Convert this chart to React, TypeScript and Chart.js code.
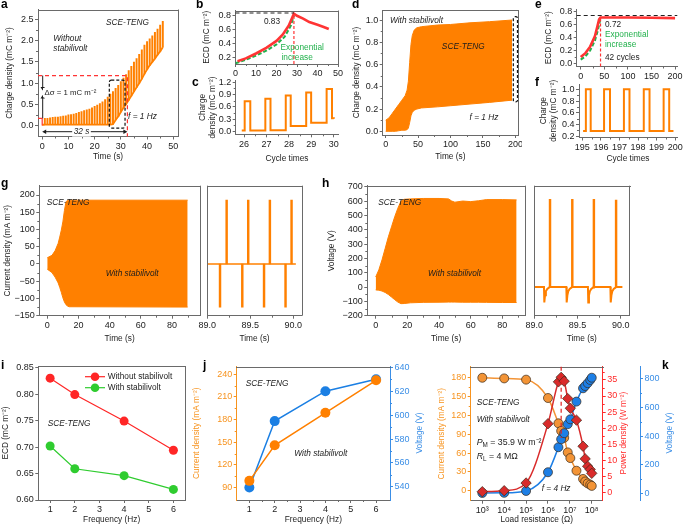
import React, { useEffect, useRef } from 'react';
import { Chart, registerables } from 'chart.js';

Chart.register(...registerables);

const FONT = '"Liberation Sans", Arial, Helvetica, sans-serif';
const FT = 9; // tick label size
const FS = 8.3; // titles & annotations
const LH = FS * 1.2;
const ORANGE = '#ff8000';
const ORANGE_L = '#f7931e';
const AX = '#6a6a6a';
const INK = '#1c1c1c';
const RED = '#ff3434';
const GREEN = '#22b14c';
const BLUE = '#1b7fe3';
const BLUE_L = '#3a8ee6';
const I_RED = '#ff2626';
const I_GREEN = '#2fcc2f';
const K_ORANGE = '#f39436';
const K_RED = '#d92b2b';
const K_BLUE = '#1d7fe6';

// ================= DATA =================
// (a) charge density, without stabilivolt: one spike per cycle
const aTime = [1, 2, 3, 4, 5, 6, 7, 8, 9, 10, 11, 12, 13, 14, 15, 16, 17, 18, 19, 20, 21, 22, 23, 24, 25, 26, 27, 28, 29, 30, 31, 32, 33, 34, 35, 36, 37, 38, 39, 40, 41, 42, 43, 44, 45, 46];
const aPeak = [0.17, 0.17, 0.18, 0.19, 0.2, 0.2, 0.21, 0.22, 0.23, 0.25, 0.26, 0.27, 0.29, 0.31, 0.33, 0.35, 0.37, 0.39, 0.42, 0.45, 0.48, 0.52, 0.56, 0.61, 0.67, 0.74, 0.8, 0.88, 0.95, 1.04, 1.12, 1.2, 1.3, 1.4, 1.5, 1.58, 1.68, 1.79, 1.9, 1.98, 2.05, 2.12, 2.2, 2.28, 2.37, 2.46];
const aLow = [0.02, 0.02, 0.02, 0.02, 0.02, 0.02, 0.02, 0.02, 0.02, 0.02, 0.02, 0.02, 0.02, 0.02, 0.02, 0.02, 0.02, 0.02, 0.02, 0.02, 0.02, 0.02, 0.02, 0.02, 0.02, 0.02, 0.03, 0.13, 0.21, 0.32, 0.42, 0.5, 0.6, 0.7, 0.8, 0.9, 1.0, 1.1, 1.22, 1.32, 1.42, 1.5, 1.58, 1.67, 1.75, 1.85];
const aBaseT = [0, 1];
const aBaseV = [0.02, 0.02];
const aXTicks = [0, 10, 20, 30, 40, 50];
const aYTicks = [0, 0.5, 1, 1.5, 2, 2.5];

// (b) ECD without stabilivolt
const bRedT = [1, 5, 10, 15, 20, 23, 26, 28.5, 30, 33, 36, 40, 43, 45.5];
const bRed = [0.15, 0.19, 0.26, 0.34, 0.44, 0.53, 0.66, 0.83, 0.8, 0.76, 0.71, 0.67, 0.64, 0.61];
const bGreenT = [0, 5, 10, 15, 20, 24, 27, 28.5];
const bGreen = [0.12, 0.17, 0.23, 0.3, 0.39, 0.5, 0.66, 0.8];
const bXTicks = [0, 10, 20, 30, 40, 50];
const bYTicks = [0.2, 0.4, 0.6, 0.8];

// (c) charge density zoom, cycles 26-30 (level changes)
const cT = [25.9, 26.03, 26.28, 26.95, 27.18, 27.86, 28.08, 28.77, 28.99, 29.68, 29.92, 30.0];
const cV = [0.02, 0.74, 0.02, 0.8, 0.03, 0.88, 0.13, 0.95, 0.21, 1.04, 0.32, 0.31];
const cXTicks = [26, 27, 28, 29, 30];
const cYTicks = [0, 0.3, 0.6, 0.9, 1.2];

// (d) charge density with stabilivolt (envelope of the dense signal)
const dTime = [0, 5, 10, 15, 20, 25, 30, 33, 35, 37, 39, 41, 44, 48, 55, 80, 100, 130, 160, 195];
const dUpper = [0.1, 0.12, 0.16, 0.2, 0.24, 0.28, 0.32, 0.37, 0.45, 0.62, 0.78, 0.86, 0.91, 0.93, 0.94, 0.955, 0.96, 0.975, 0.985, 1.0];
const dLower = [0, 0, 0, 0, 0.005, 0.01, 0.01, 0.015, 0.03, 0.08, 0.14, 0.17, 0.19, 0.2, 0.21, 0.22, 0.23, 0.245, 0.26, 0.28];
const dXTicks = [0, 50, 100, 150, 200];
const dYTicks = [0, 0.2, 0.4, 0.6, 0.8, 1.0];

// (e) ECD with stabilivolt
const eRedT = [0, 10, 20, 30, 35, 39, 42, 60, 100, 150, 200];
const eRed = [0.1, 0.16, 0.26, 0.42, 0.56, 0.68, 0.71, 0.71, 0.71, 0.705, 0.7];
const eGreenT = [0, 10, 20, 30, 36, 40, 42];
const eGreen = [0.06, 0.11, 0.2, 0.35, 0.5, 0.63, 0.7];
const eXTicks = [0, 50, 100, 150, 200];
const eYTicks = [0, 0.2, 0.4, 0.6, 0.8];

// (f) charge density zoom, cycles 195-200 (level changes)
const fT = [195.04, 195.19, 195.45, 196.17, 196.49, 197.24, 197.54, 198.31, 198.62, 199.38, 199.68, 199.91];
const fV = [0.29, 1.0, 0.29, 1.0, 0.29, 1.0, 0.29, 1.0, 0.29, 1.0, 0.29, 0.29];
const fXTicks = [195, 196, 197, 198, 199, 200];
const fYTicks = [0.2, 0.4, 0.6, 0.8, 1.0];

// (g) current density envelope
const gTime = [0, 3, 5, 7, 8, 9, 10, 11, 12, 13, 14, 90];
const gUpper = [18, 25, 38, 60, 78, 98, 122, 155, 180, 185, 185, 185];
const gLower = [-15, -25, -38, -55, -68, -82, -98, -110, -118, -122, -124, -125];
const gXTicks = [0, 20, 40, 60, 80];
const gYTicks = [-150, -100, -50, 0, 50, 100, 150, 200];
// (g) zoom 89-90 s : spikes
const gsT = [89.148, 89.225, 89.407, 89.476, 89.66, 89.728, 89.91, 89.98];
const gsV = [-125, 185, -125, 185, -125, 185, -125, 185];
const gsBase = [0, 0, 0, 0, 0, 0, 0, 0];
const gzT = [89.0, 90.03];
const gzV = [0, 0];
const zXTicks = [89.0, 89.5, 90.0];

// (h) voltage envelope
const hTime = [0, 2, 4, 6, 8, 10, 12, 14, 16, 18, 22, 30, 40, 46, 48, 50, 55, 60, 65, 70, 80, 89];
const hUpper = [70, 120, 190, 270, 350, 420, 490, 550, 600, 612, 615, 618, 618, 615, 600, 592, 600, 596, 602, 610, 610, 608];
const hLower = [-20, -22, -28, -38, -52, -70, -88, -105, -116, -115, -110, -107, -106, -105, -105, -105, -106, -106, -106, -107, -108, -108];
const hYTicks = [-200, -100, 0, 100, 200, 300, 400, 500, 600, 700];
// (h) zoom 89-90 s
const hsT = [89.182, 89.44, 89.69, 89.947];
const hsV = [612, 612, 612, 606];
const hsBase = [0, 0, 0, 0];
const hzT = [89.0, 89.112, 89.116, 89.124, 89.134, 89.15, 89.17, 89.18, 89.371, 89.375, 89.383, 89.393, 89.409, 89.43, 89.44, 89.621, 89.625, 89.633, 89.643, 89.659, 89.68, 89.69, 89.881, 89.885, 89.893, 89.903, 89.919, 89.94, 89.95, 90.02];
const hzV = [0, 0, -108, -58, -30, -13, -4, 0, 0, -108, -58, -30, -13, -4, 0, 0, -108, -58, -30, -13, -4, 0, 0, -108, -58, -30, -13, -4, 0, 0];

// (i) ECD vs frequency
const iFreq = [1, 2, 4, 6];
const iWithout = [0.83, 0.799, 0.749, 0.694];
const iWith = [0.702, 0.659, 0.646, 0.62];
const iXTicks = [1, 2, 3, 4, 5, 6];
const iYTicks = [0.6, 0.65, 0.7, 0.75, 0.8, 0.85];

// (j) current density & voltage vs frequency
const jFreq = [1, 2, 4, 6];
const jCurrent = [99, 146, 189, 232];
const jVoltage = [539.5, 595, 620, 630];
const jCurTicks = [90, 120, 150, 180, 210, 240];
const jVolTicks = [540, 560, 580, 600, 620, 640];

// (k) load resistance sweep
const kR = [1e3, 1e4, 1e5, 1e6, 3e6, 4e6, 5.5e6, 8e6, 1.05e7, 2e7, 4e7, 5e7, 6.5e7, 8.5e7, 1e8];
const kCurrent = [179, 178, 176, 147, 107, 95, 84, 61, 52, 32, 19, 15, 12, 10, 8];
const kPower = [0.3, 0.6, 3.0, 21.4, 34.4, 35.8, 34.6, 29.2, 26.2, 22.5, 14.4, 10.5, 8.2, 7.2, 6.0];
const kVoltage = [2, 3, 16, 147, 322, 378, 420, 483, 517, 641, 734, 750, 770, 792, 808];
const kXTicks = [1e3, 1e4, 1e5, 1e6, 1e7, 1e8];
const kCurTicks = [0, 30, 60, 90, 120, 150, 180];
const kPowTicks = [0, 5, 10, 15, 20, 25, 30, 35];
const kVolTicks = [0, 200, 400, 600, 800];

// ================= HELPERS =================
const fmt1 = (v: number) => v.toFixed(1);
const fmt2 = (v: number) => v.toFixed(2);
const fmtInt = (v: number) => (v < 0 ? '\u2212' + Math.abs(v) : String(v));
const SUP: Record<string, string> = { '0': '\u2070', '1': '\u00b9', '2': '\u00b2', '3': '\u00b3', '4': '\u2074', '5': '\u2075', '6': '\u2076', '7': '\u2077', '8': '\u2078', '9': '\u2079' };
const fmtPow = (v: number) => '10' + String(Math.round(Math.log10(v))).split('').map((c) => SUP[c]).join('');
const pts = (xs: number[], ys: number[]) => xs.map((x, i) => ({ x, y: ys[i] }));
const tl = (x: number, cl: number) => x - cl - LH / 2;
const tb = (y: number, cb: number) => cb - LH / 2 - y;

type AxOpt = {
  pos: 'left' | 'right' | 'bottom';
  min: number;
  max: number;
  ticks?: number[];
  fmt?: (v: number) => string;
  size: number;
  title?: string | string[];
  titlePad?: number;
  color?: string;
  labelColor?: string;
  titleColor?: string;
  labels?: boolean;
  display?: boolean;
  type?: string;
};

function ax(o: AxOpt): any {
  const horiz = o.pos === 'bottom';
  const c = o.color ?? AX;
  return {
    type: o.type ?? 'linear',
    position: o.pos,
    display: o.display ?? true,
    min: o.min,
    max: o.max,
    bounds: 'data',
    offset: false,
    afterFit: (s: any) => {
      if (horiz) s.height = o.size;
      else s.width = o.size;
      s.paddingLeft = 0;
      s.paddingRight = 0;
      s.paddingTop = 0;
      s.paddingBottom = 0;
    },
    afterBuildTicks: (s: any) => {
      if (o.ticks) s.ticks = o.ticks.map((v) => ({ value: v }));
    },
    border: { display: true, color: c, width: 1 },
    grid: { display: true, drawOnChartArea: false, drawTicks: true, tickLength: 3, tickWidth: 1, tickColor: c, color: c, offset: false },
    ticks: {
      display: o.labels ?? true,
      color: o.labelColor ?? INK,
      font: { family: FONT, size: FT },
      padding: 1.5,
      autoSkip: false,
      maxRotation: 0,
      minRotation: 0,
      callback: (v: any) => (o.fmt ? o.fmt(Number(v)) : String(v)),
    },
    title: o.title
      ? {
          display: true,
          text: o.title,
          color: o.titleColor ?? INK,
          font: { family: FONT, size: FS },
          padding: horiz ? { top: 0, bottom: o.titlePad ?? 0 } : { top: o.titlePad ?? 0, bottom: 0 },
        }
      : { display: false },
  };
}

type TextOpt = { italic?: boolean; bold?: boolean; size?: number; color?: string; align?: CanvasTextAlign; rot?: number; bg?: string };

function makeG(chart: any, off: number[]) {
  const ctx: CanvasRenderingContext2D = chart.ctx;
  const ca = chart.chartArea;
  const X = (v: number, id = 'x') => chart.scales[id].getPixelForValue(v);
  const Y = (v: number, id = 'y') => chart.scales[id].getPixelForValue(v);
  const P = (x: number) => x - off[0];
  const Q = (y: number) => y - off[1];
  const al = (v: number) => Math.round(v) + 0.5;
  const seg = (p: number[][], o: any = {}) => {
    ctx.save();
    ctx.beginPath();
    ctx.strokeStyle = o.color ?? INK;
    ctx.lineWidth = o.width ?? 1;
    ctx.setLineDash(o.dash ?? []);
    p.forEach((q, i) => (i ? ctx.lineTo(q[0], q[1]) : ctx.moveTo(q[0], q[1])));
    if (o.close) ctx.closePath();
    ctx.stroke();
    ctx.restore();
  };
  const fontOf = (o: TextOpt) => `${o.italic ? 'italic ' : ''}${o.bold ? 'bold ' : ''}${o.size ?? FS}px ${FONT}`;
  const text = (s: string, x: number, y: number, o: TextOpt = {}) => {
    ctx.save();
    ctx.font = fontOf(o);
    ctx.textAlign = o.align ?? 'left';
    ctx.textBaseline = 'middle';
    ctx.translate(P(x), Q(y));
    if (o.rot) ctx.rotate(o.rot);
    if (o.bg) {
      const w = ctx.measureText(s).width;
      const x0 = o.align === 'center' ? -w / 2 : o.align === 'right' ? -w : 0;
      const sz = o.size ?? FS;
      ctx.fillStyle = o.bg;
      ctx.fillRect(x0 - 1.5, -sz * 0.6, w + 3, sz * 1.2);
    }
    ctx.fillStyle = o.color ?? INK;
    ctx.fillText(s, 0, 0);
    ctx.restore();
  };
  const rich = (runs: { t: string; italic?: boolean; sub?: boolean }[], x: number, y: number, size = FS) => {
    ctx.save();
    ctx.textBaseline = 'middle';
    ctx.textAlign = 'left';
    ctx.fillStyle = INK;
    let cx = P(x);
    for (const r of runs) {
      const sz = r.sub ? size * 0.72 : size;
      ctx.font = `${r.italic ? 'italic ' : ''}${sz}px ${FONT}`;
      ctx.fillText(r.t, cx, Q(y) + (r.sub ? size * 0.32 : 0));
      cx += ctx.measureText(r.t).width;
    }
    ctx.restore();
  };
  const head = (x: number, y: number, ang: number, len = 4, wid = 2.2, color = INK) => {
    ctx.save();
    ctx.translate(x, y);
    ctx.rotate(ang);
    ctx.beginPath();
    ctx.moveTo(0, 0);
    ctx.lineTo(-len, -wid);
    ctx.lineTo(-len, wid);
    ctx.closePath();
    ctx.fillStyle = color;
    ctx.fill();
    ctx.restore();
  };
  const frame = (o: { top?: boolean; right?: boolean; color?: string } = {}) => {
    const c = o.color ?? AX;
    if (o.top !== false) seg([[Math.floor(ca.left), al(ca.top)], [Math.ceil(ca.right) + 1, al(ca.top)]], { color: c });
    if (o.right !== false) seg([[al(ca.right), ca.top], [al(ca.right), ca.bottom]], { color: c });
  };
  const minor = (id: string, vals: number[], len = 2, color = AX) => {
    const s = chart.scales[id];
    for (const v of vals) {
      const p = al(s.getPixelForValue(v));
      if (s.position === 'bottom') seg([[p, ca.bottom], [p, ca.bottom + len]], { color });
      else if (s.position === 'left') seg([[s.right, p], [s.right - len, p]], { color });
      else seg([[s.left, p], [s.left + len, p]], { color });
    }
  };
  const dot = (x: number, y: number, r: number, fill: string) => {
    ctx.save();
    ctx.beginPath();
    ctx.arc(x, y, r, 0, Math.PI * 2);
    ctx.fillStyle = fill;
    ctx.fill();
    ctx.restore();
  };
  return { ctx, ca, X, Y, P, Q, al, seg, text, rich, head, frame, minor, dot };
}

type Spec = {
  canvas: number[]; // page left, top, right, bottom
  plot: number[]; // page left, top, right, bottom
  noLeft?: boolean;
  hasRight?: boolean;
  scales: any;
  datasets: any[];
  draw?: (g: ReturnType<typeof makeG>) => void;
};

function buildConfig(s: Spec): any {
  const [cl, ct, cr] = s.canvas;
  const [pl, pt, pr] = s.plot;
  return {
    type: 'line',
    data: { datasets: s.datasets },
    options: {
      responsive: false,
      animation: false,
      devicePixelRatio: 1,
      events: [],
      layout: {
        padding: {
          left: s.noLeft ? pl - cl : 0,
          top: pt - ct,
          right: s.hasRight ? 0 : cr - pr,
          bottom: 0,
        },
      },
      plugins: { legend: { display: false }, tooltip: { enabled: false } },
      scales: s.scales,
    },
    plugins: [
      {
        id: 'deco',
        afterDraw(chart: any) {
          if (!s.draw) return;
          const g = makeG(chart, [cl, ct]);
          g.ctx.save();
          s.draw(g);
          g.ctx.restore();
        },
      },
    ],
  };
}

function Panel({ spec }: { spec: Spec }) {
  const ref = useRef<HTMLCanvasElement | null>(null);
  useEffect(() => {
    const c = ref.current;
    if (!c) return;
    const chart = new Chart(c, buildConfig(spec));
    return () => chart.destroy();
  }, [spec]);
  const [l, t, r, b] = spec.canvas;
  return (
    <canvas
      ref={ref}
      width={r - l}
      height={b - t}
      style={{ position: 'absolute', left: l, top: t, width: r - l, height: b - t }}
    />
  );
}

const lineDs = (xs: number[], ys: number[], color: string, width: number, extra: any = {}) => ({
  type: 'line',
  data: pts(xs, ys),
  borderColor: color,
  backgroundColor: color,
  borderWidth: width,
  pointRadius: 0,
  tension: 0,
  fill: false,
  ...extra,
});

const envelope = (xs: number[], lo: number[], hi: number[]) => [
  lineDs(xs, lo, ORANGE, 1),
  lineDs(xs, hi, ORANGE, 1, { fill: '-1', backgroundColor: ORANGE }),
];

const spikes = (xs: number[], lo: number[], hi: number[], w: number) => ({
  type: 'bar',
  data: xs.map((x, i) => ({ x, y: [lo[i], hi[i]] })),
  backgroundColor: ORANGE,
  borderWidth: 0,
  barThickness: w,
  grouped: false,
});

// ================= PANELS =================
const specA: Spec = {
  canvas: [0, 0, 183, 165],
  plot: [38, 9.5, 178, 136.5],
  scales: {
    x: ax({ pos: 'bottom', min: -1.6, max: 51.8, ticks: aXTicks, size: 28.5, title: 'Time (s)', titlePad: tb(157, 165) }),
    y: ax({ pos: 'left', min: -0.26, max: 2.74, ticks: aYTicks, fmt: fmt1, size: 38, title: 'Charge density (mC m\u207b\u00b2)', titlePad: tl(10, 0) }),
  },
  datasets: [
    lineDs(aBaseT, aBaseV, ORANGE, 2),
    lineDs(aTime, aLow, ORANGE, 1.8),
    spikes(aTime, aLow, aPeak, 1.3),
  ],
  draw: (g) => {
    g.frame();
    g.minor('x', [5, 15, 25, 35, 45]);
    g.minor('y', [0.25, 0.75, 1.25, 1.75, 2.25]);
    const ca = g.ca;
    g.seg([[ca.left, g.Y(1.18)], [g.X(32.5), g.Y(1.18)], [g.X(32.5), ca.bottom]], { color: RED, dash: [4, 3], width: 1.2 });
    g.seg([[ca.left, g.Y(0.17)], [g.X(0), g.Y(0.17)], [g.X(0), g.Y(0.0)]], { color: RED, width: 1.2 });
    // black dashed rounded box
    g.ctx.save();
    g.ctx.beginPath();
    g.ctx.setLineDash([3, 2]);
    g.ctx.lineWidth = 1.2;
    g.ctx.strokeStyle = '#111';
    const x0 = g.X(25.6), x1 = g.X(31.6), y0 = g.Y(1.07), y1 = g.Y(-0.06);
    g.ctx.roundRect(x0, y0, x1 - x0, y1 - y0, 2);
    g.ctx.stroke();
    g.ctx.restore();
    // delta sigma dimension arrows
    const ax0 = g.P(42.7);
    g.seg([[ax0, g.Y(1.18)], [ax0, g.Q(87.5)]], { width: 1 });
    g.head(ax0, g.Q(90.5), Math.PI / 2, 3.5, 2.2);
    g.seg([[ax0, g.Y(0.17)], [ax0, g.Q(98)]], { width: 1 });
    g.head(ax0, g.Q(95), -Math.PI / 2, 3.5, 2.2);
    g.text('\u0394\u03c3 = 1 mC m\u207b\u00b2', 44.5, 92.7, { size: 7.8, bg: '#ffffff' });
    // 32 s arrow
    const yy = g.Q(131.7);
    g.seg([[g.X(0) + 3, yy], [g.X(32.5) - 3, yy]]);
    g.head(g.X(0), yy, Math.PI, 4, 2.2);
    g.head(g.X(32.5), yy, 0, 4, 2.2);
    g.text('32 s', 81.5, 131.7, { italic: true, align: 'center', bg: '#ffffff' });
    g.text('SCE-TENG', 127.5, 22.3, { italic: true, align: 'center' });
    g.text('Without', 53.3, 38.3, { italic: true });
    g.text('stabilivolt', 53.3, 48.3, { italic: true });
    g.text('f = 1 Hz', 142.5, 116.7, { italic: true, align: 'center' });
  },
};

const specB: Spec = {
  canvas: [180, 0, 343, 78],
  plot: [235.5, 10.5, 338, 64],
  scales: {
    x: ax({ pos: 'bottom', min: 0, max: 50, ticks: bXTicks, size: 14 }),
    y: ax({ pos: 'left', min: 0.11, max: 0.875, ticks: bYTicks, fmt: fmt1, size: 55.5, title: 'ECD (mC m\u207b\u00b2)', titlePad: tl(206.7, 180) }),
  },
  datasets: [
    lineDs(bRedT, bRed, RED, 2.6),
    lineDs(bGreenT, bGreen, GREEN, 2, { borderDash: [4, 2] }),
  ],
  draw: (g) => {
    g.frame();
    g.minor('x', [5, 15, 25, 35, 45]);
    g.minor('y', [0.3, 0.5, 0.7]);
    g.seg([[g.X(0), g.Y(0.84)], [g.X(28.5), g.Y(0.84)]], { color: '#222', dash: [4, 3], width: 1.1 });
    g.seg([[g.X(28.5), g.ca.bottom], [g.X(28.5), g.Y(0.83)]], { color: RED, dash: [3, 2], width: 1.2 });
    g.text('0.83', 272, 21.7, { align: 'center' });
    g.text('Exponential', 280.5, 47.3, { color: GREEN });
    g.text('increase', 281.5, 57.3, { color: GREEN });
  },
};

const specC: Spec = {
  canvas: [180, 76, 343, 165],
  plot: [235.7, 80.7, 338.3, 134.3],
  scales: {
    x: ax({ pos: 'bottom', min: 25.63, max: 30.2, ticks: cXTicks, size: 30.7, title: 'Cycle times', titlePad: tb(158.3, 165) }),
    y: ax({ pos: 'left', min: -0.07, max: 1.24, ticks: cYTicks, fmt: fmt1, size: 55.7, title: ['Charge', 'density (mC m\u207b\u00b2)'], titlePad: tl(202.5, 180) }),
  },
  datasets: [lineDs(cT, cV, ORANGE, 2, { stepped: 'before' })],
  draw: (g) => {
    g.minor('y', [0.15, 0.45, 0.75, 1.05]);
    g.minor('x', [26.5, 27.5, 28.5, 29.5]);
  },
};

const specD: Spec = {
  canvas: [345, 0, 522, 165],
  plot: [382.7, 10, 518, 135],
  scales: {
    x: ax({ pos: 'bottom', min: -4.6, max: 204, ticks: dXTicks, size: 30, title: 'Time (s)', titlePad: tb(156.7, 165) }),
    y: ax({ pos: 'left', min: -0.033, max: 1.09, ticks: dYTicks, fmt: fmt1, size: 37.7, title: 'Charge density (mC m\u207b\u00b2)', titlePad: tl(356.7, 345) }),
  },
  datasets: envelope(dTime, dLower, dUpper),
  draw: (g) => {
    g.frame();
    g.minor('x', [25, 75, 125, 175]);
    g.minor('y', [0.1, 0.3, 0.5, 0.7, 0.9]);
    g.ctx.save();
    g.ctx.beginPath();
    g.ctx.setLineDash([3, 2]);
    g.ctx.lineWidth = 1.2;
    g.ctx.strokeStyle = '#111';
    const x0 = g.X(196.8), x1 = g.X(203.2), y0 = g.Y(1.03), y1 = g.Y(0.265);
    g.ctx.roundRect(x0, y0, x1 - x0, y1 - y0, 1.5);
    g.ctx.stroke();
    g.ctx.restore();
    g.text('With stabilivolt', 390, 20.7, { italic: true });
    g.text('SCE-TENG', 463.3, 46.7, { italic: true, align: 'center' });
    g.text('f = 1 Hz', 484, 117.7, { italic: true, align: 'center' });
  },
};

const specE: Spec = {
  canvas: [522, 0, 685, 80],
  plot: [576.7, 9, 677.3, 66.5],
  scales: {
    x: ax({ pos: 'bottom', min: -8.5, max: 204.7, ticks: eXTicks, size: 13.5 }),
    y: ax({ pos: 'left', min: -0.046, max: 0.84, ticks: eYTicks, fmt: fmt1, size: 54.7, title: 'ECD (mC m\u207b\u00b2)', titlePad: tl(548.3, 522) }),
  },
  datasets: [
    lineDs(eRedT, eRed, RED, 2.6),
    lineDs(eGreenT, eGreen, GREEN, 2, { borderDash: [4, 2] }),
  ],
  draw: (g) => {
    g.minor('x', [25, 75, 125, 175]);
    g.minor('y', [0.1, 0.3, 0.5, 0.7]);
    g.seg([[g.ca.left, g.Y(0.74)], [g.ca.right, g.Y(0.74)]], { color: '#222', dash: [4, 3], width: 1.1 });
    g.seg([[g.X(42), g.ca.bottom], [g.X(42), g.Y(0.72)]], { color: RED, dash: [3, 2], width: 1.2 });
    g.text('0.72', 605, 25);
    g.text('Exponential', 605, 35, { color: GREEN });
    g.text('increase', 605, 44.3, { color: GREEN });
    g.text('42 cycles', 605, 57.3);
  },
};

const specF: Spec = {
  canvas: [522, 79, 685, 165],
  plot: [579, 84, 677, 137.5],
  scales: {
    x: ax({ pos: 'bottom', min: 194.82, max: 200.1, ticks: fXTicks, size: 27.5, title: 'Cycle times', titlePad: tb(158.3, 165) }),
    y: ax({ pos: 'left', min: 0.18, max: 1.09, ticks: fYTicks, fmt: fmt1, size: 57, title: ['Charge', 'density (mC m\u207b\u00b2)'], titlePad: tl(543.3, 522) }),
  },
  datasets: [lineDs(fT, fV, ORANGE, 2, { stepped: 'before' })],
  draw: (g) => {
    g.minor('x', [195.5, 196.5, 197.5, 198.5, 199.5]);
    g.minor('y', [0.3, 0.5, 0.7, 0.9]);
  },
};

const specG: Spec = {
  canvas: [0, 175, 203, 346],
  plot: [39.3, 185.7, 200, 315.7],
  scales: {
    x: ax({ pos: 'bottom', min: -5.1, max: 97.9, ticks: gXTicks, size: 30.3, title: 'Time (s)', titlePad: tb(338.3, 346) }),
    y: ax({ pos: 'left', min: -150, max: 227, ticks: gYTicks, fmt: fmtInt, size: 39.3, title: 'Current density (mA m\u207b\u00b2)', titlePad: tl(8, 0) }),
  },
  datasets: envelope(gTime, gLower, gUpper),
  draw: (g) => {
    g.frame();
    g.minor('x', [10, 30, 50, 70, 90]);
    g.minor('y', [-125, -75, -25, 25, 75, 125, 175]);
    g.text('SCE-TENG', 46.7, 202.3, { italic: true });
    g.text('With stabilivolt', 132.2, 273.3, { italic: true, align: 'center' });
  },
};

const specGz: Spec = {
  canvas: [195, 175, 310, 346],
  plot: [207.3, 185.7, 301.7, 315.7],
  noLeft: true,
  scales: {
    x: ax({ pos: 'bottom', min: 89.0, max: 90.098, ticks: zXTicks, fmt: fmt1, size: 30.3, title: 'Time (s)', titlePad: tb(338.3, 346) }),
    y: ax({ pos: 'left', min: -150, max: 227, size: 0, display: false }),
  },
  datasets: [lineDs(gzT, gzV, ORANGE, 1.6), spikes(gsT, gsBase, gsV, 1.8)],
  draw: (g) => {
    g.frame();
    g.seg([[g.al(g.ca.left), g.ca.top], [g.al(g.ca.left), g.ca.bottom]], { color: AX });
    g.minor('x', [89.25, 89.75]);
  },
};

const specH: Spec = {
  canvas: [322, 175, 530, 346],
  plot: [367.3, 185.7, 525, 315.7],
  scales: {
    x: ax({ pos: 'bottom', min: -5.3, max: 94.3, ticks: gXTicks, size: 30.3, title: 'Time (s)', titlePad: tb(338.3, 346) }),
    y: ax({ pos: 'left', min: -200, max: 707, ticks: hYTicks, fmt: fmtInt, size: 45.3, title: 'Voltage (V)', titlePad: tl(331.7, 322) }),
  },
  datasets: envelope(hTime, hLower, hUpper),
  draw: (g) => {
    g.frame();
    g.minor('x', [10, 30, 50, 70, 90]);
    g.minor('y', [-150, -50, 50, 150, 250, 350, 450, 550, 650]);
    g.text('SCE-TENG', 378.3, 202.3, { italic: true });
    g.text('With stabilivolt', 454.5, 273.3, { italic: true, align: 'center' });
  },
};

const specHz: Spec = {
  canvas: [522, 175, 640, 346],
  plot: [534.3, 185.7, 629.3, 315.7],
  noLeft: true,
  scales: {
    x: ax({ pos: 'bottom', min: 89.0, max: 90.1, ticks: zXTicks, fmt: fmt1, size: 30.3, title: 'Time (s)', titlePad: tb(338.3, 346) }),
    y: ax({ pos: 'left', min: -200, max: 707, size: 0, display: false }),
  },
  datasets: [lineDs(hzT, hzV, ORANGE, 2), spikes(hsT, hsBase, hsV, 1.8)],
  draw: (g) => {
    g.frame();
    g.seg([[g.al(g.ca.left), g.ca.top], [g.al(g.ca.left), g.ca.bottom]], { color: AX });
    g.minor('x', [89.25, 89.75]);
  },
};

const markerDs = (xs: number[], ys: number[], color: string, extra: any = {}) => ({
  type: 'line',
  data: pts(xs, ys),
  borderColor: color,
  backgroundColor: color,
  borderWidth: 1.2,
  pointRadius: 4.5,
  pointBackgroundColor: color,
  pointBorderWidth: 0,
  tension: 0,
  fill: false,
  ...extra,
});

const specI: Spec = {
  canvas: [0, 356, 190, 526],
  plot: [38.3, 366, 185, 500],
  scales: {
    x: ax({ pos: 'bottom', min: 0.52, max: 6.47, ticks: iXTicks, size: 26, title: 'Frequency (Hz)', titlePad: tb(520, 526) }),
    y: ax({ pos: 'left', min: 0.6, max: 0.853, ticks: iYTicks, fmt: fmt2, size: 38.3, title: 'ECD (mC m\u207b\u00b2)', titlePad: tl(6, 0) }),
  },
  datasets: [markerDs(iFreq, iWithout, I_RED), markerDs(iFreq, iWith, I_GREEN)],
  draw: (g) => {
    g.frame();
    const items: [string, string, number][] = [
      [I_RED, 'Without stabilivolt', 376.7],
      [I_GREEN, 'With stabilivolt', 387.7],
    ];
    for (const [c, s, y] of items) {
      g.seg([[g.P(85), g.Q(y)], [g.P(105), g.Q(y)]], { color: c, width: 1.2 });
      g.dot(g.P(95), g.Q(y), 4.3, c);
      g.text(s, 107.7, y);
    }
    g.text('SCE-TENG', 47.7, 423.3, { italic: true });
  },
};

const specJ: Spec = {
  canvas: [190, 356, 430, 526],
  plot: [236.7, 366.7, 390, 500],
  hasRight: true,
  scales: {
    x: ax({ pos: 'bottom', min: 0.5, max: 6.55, ticks: iXTicks, size: 26, title: 'Frequency (Hz)', titlePad: tb(520, 526) }),
    y: ax({ pos: 'left', min: 73.7, max: 250, ticks: jCurTicks, size: 46.7, color: ORANGE_L, labelColor: ORANGE_L, titleColor: ORANGE_L, title: 'Current density (mA m\u207b\u00b2)', titlePad: tl(196.7, 190) }),
    yV: ax({ pos: 'right', min: 529, max: 640.5, ticks: jVolTicks, size: 40, color: BLUE_L, labelColor: BLUE_L }),
  },
  datasets: [
    markerDs(jFreq, jCurrent, ORANGE, { pointRadius: 5, borderWidth: 1.5, yAxisID: 'y' }),
    markerDs(jFreq, jVoltage, BLUE, { pointRadius: 5, borderWidth: 1.5, yAxisID: 'yV' }),
  ],
  draw: (g) => {
    g.frame({ right: false });
    g.minor('x', [1.5, 2.5, 3.5, 4.5, 5.5]);
    g.minor('y', [105, 135, 165, 195, 225], 2, ORANGE_L);
    g.minor('yV', [550, 570, 590, 610, 630], 2, BLUE_L);
    g.text('Voltage (V)', 420, 433, { rot: -Math.PI / 2, align: 'center', color: BLUE_L });
    g.text('SCE-TENG', 245.7, 384, { italic: true });
    g.text('With stabilivolt', 320.8, 453.7, { italic: true, align: 'center' });
  },
};

const kDs = (ys: number[], color: string, axis: string, style: string, r: number) => ({
  type: 'line',
  data: pts(kR, ys),
  yAxisID: axis,
  borderColor: color,
  backgroundColor: color,
  borderWidth: 1.5,
  pointRadius: r,
  pointStyle: style,
  pointBackgroundColor: color,
  pointBorderColor: '#3a2a1a',
  pointBorderWidth: 0.7,
  cubicInterpolationMode: 'monotone',
  fill: false,
});

const specK: Spec = {
  canvas: [432, 356, 685, 526],
  plot: [470.7, 366.7, 602.7, 500.7],
  hasRight: true,
  scales: {
    x: ax({ pos: 'bottom', type: 'logarithmic', min: 295, max: 3.16e8, ticks: kXTicks, fmt: fmtPow, size: 25.3, title: 'Load resistance (\u03a9)', titlePad: tb(520, 526) }),
    y: ax({ pos: 'left', min: -15.4, max: 196.5, ticks: kCurTicks, size: 38.7, color: ORANGE_L, labelColor: ORANGE_L, titleColor: ORANGE_L, title: 'Current density (mA m\u207b\u00b2)', titlePad: tl(441.7, 432) }),
    yP: ax({ pos: 'right', min: -2.5, max: 39.1, ticks: kPowTicks, size: 37.3, color: '#ff2a2a', labelColor: '#ff2a2a' }),
    yV: ax({ pos: 'right', min: -52, max: 885, ticks: kVolTicks, size: 45, color: BLUE_L, labelColor: BLUE_L }),
  },
  datasets: [
    kDs(kPower, K_RED, 'yP', 'rectRot', 5.2),
    kDs(kVoltage, K_BLUE, 'yV', 'circle', 4.5),
    kDs(kCurrent, K_ORANGE, 'y', 'circle', 4.5),
  ],
  draw: (g) => {
    g.frame({ right: false });
    g.minor('y', [15, 45, 75, 105, 135, 165], 2, ORANGE_L);
    g.minor('yP', [2.5, 7.5, 12.5, 17.5, 22.5, 27.5, 32.5, 37.5], 2, '#ff2a2a');
    g.minor('yV', [100, 300, 500, 700], 2, BLUE_L);
    g.seg([[g.X(4e6), g.ca.top], [g.X(4e6), g.Y(17, 'yP')]], { color: '#e02020', dash: [4, 3], width: 1.2 });
    g.text('Power density (W m\u207b\u00b2)', 623.3, 433, { rot: -Math.PI / 2, align: 'center', color: '#ff2a2a' });
    g.text('Voltage (V)', 670, 433, { rot: -Math.PI / 2, align: 'center', color: BLUE_L });
    g.text('SCE-TENG', 476.7, 402.3, { italic: true });
    g.text('With stabilivolt', 476.7, 419.3, { italic: true });
    g.rich([{ t: 'P', italic: true }, { t: 'M', sub: true }, { t: ' = 35.9 W m\u207b\u00b2' }], 476.7, 442.3, 8.8);
    g.rich([{ t: 'R', italic: true }, { t: 'L', sub: true }, { t: ' = 4 M\u03a9' }], 476.7, 456.7, 8.8);
    g.text('f = 4 Hz', 541.7, 489, { italic: true });
  },
};

const SPECS = [specA, specB, specC, specD, specE, specF, specG, specGz, specH, specHz, specI, specJ, specK];

const LETTERS: [string, number, number][] = [
  ['a', 1, 8],
  ['b', 196, 8],
  ['c', 192, 86],
  ['d', 352, 8],
  ['e', 535, 8],
  ['f', 535, 86],
  ['g', 1, 187],
  ['h', 322, 187],
  ['i', 1, 369],
  ['j', 203, 369],
  ['k', 662, 369],
];

export default function App() {
  return (
    <div style={{ position: 'absolute', left: 0, top: 0, width: 685, height: 526, background: '#ffffff', overflow: 'hidden' }}>
      {SPECS.map((s, i) => (
        <Panel key={i} spec={s} />
      ))}
      {LETTERS.map(([t, x, base]) => (
        <div
          key={t}
          style={{ position: 'absolute', left: x, top: base - 10.2, fontFamily: FONT, fontWeight: 'bold', fontSize: 12, lineHeight: '12px', color: '#000' }}
        >
          {t}
        </div>
      ))}
    </div>
  );
}
